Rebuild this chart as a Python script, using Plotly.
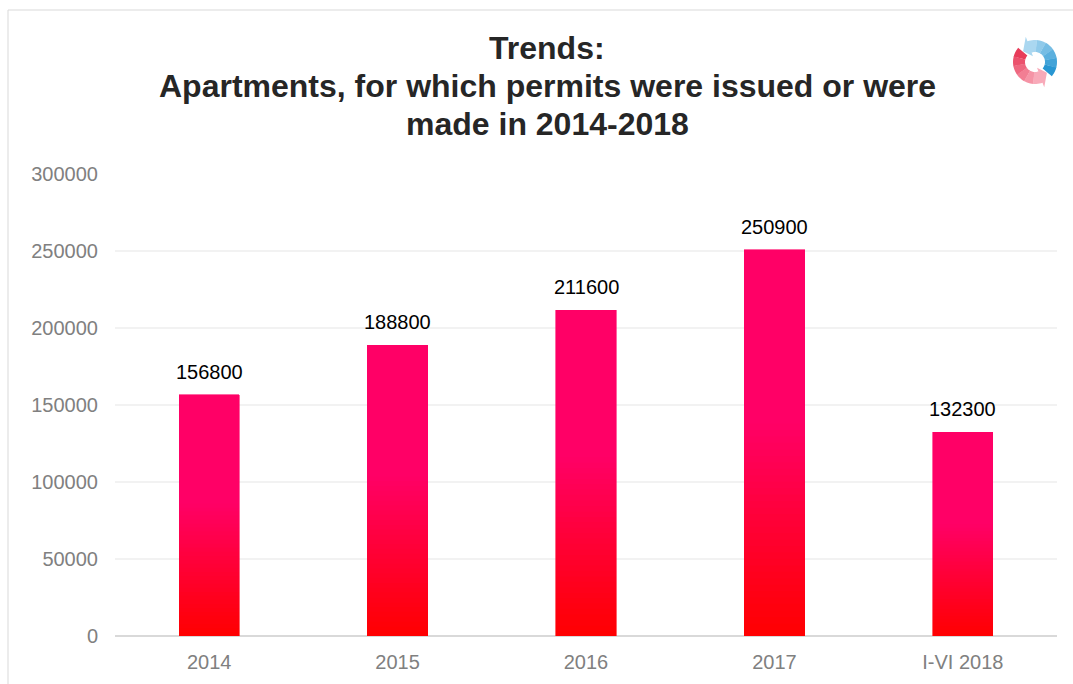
import math
import plotly.graph_objects as go

# Apartments for which permits were issued, per period
categories = ["2014", "2015", "2016", "2017", "I-VI 2018"]
values = [156800, 188800, 211600, 250900, 132300]
y_ticks = [0, 50000, 100000, 150000, 200000, 250000, 300000]
title_lines = [
    "Trends:",
    "Apartments, for which permits were issued or were",
    "made in 2014-2018",
]

W, H = 1073, 684
ML, MR, MT, MB = 115, 16, 174, 48
PW, PH = W - ML - MR, H - MT - MB

FONT = "Liberation Sans, Arial, sans-serif"
PINK = (255, 0, 102)
RED = (255, 0, 0)


def bar_color(f):
    """Vertical gradient inside a bar: red at the base, pink from ~55% up."""
    t = min(f / 0.55, 1.0)
    c = [round(RED[i] + (PINK[i] - RED[i]) * t) for i in range(3)]
    return f"rgb({c[0]},{c[1]},{c[2]})"


def px_to_paper(px, py):
    return (px - ML) / PW, (MT + PH - py) / PH


fig = go.Figure()

# each bar is stacked from thin slices so it can carry a vertical gradient
N = 60
for k in range(N):
    col = bar_color((k + 0.5) / N)
    fig.add_trace(go.Bar(
        x=categories,
        y=[v / N for v in values],
        marker=dict(color=col, line=dict(color=col, width=0.6)),
        hoverinfo="skip",
        showlegend=False,
    ))

# value labels above the bars (category axis positions by index)
for i, v in enumerate(values):
    fig.add_annotation(
        x=i, y=v, xref="x", yref="y", text=str(v), showarrow=False,
        yanchor="middle", yshift=23,
        font=dict(family=FONT, size=20, color="#000000"),
    )

# title, one line per annotation for tight line spacing
for i, line in enumerate(title_lines):
    xp, yp = px_to_paper(547, 48 + 38 * i)
    fig.add_annotation(
        x=xp, y=yp, xref="paper", yref="paper", text=f"<b>{line}</b>",
        showarrow=False, xanchor="center", yanchor="middle",
        font=dict(family=FONT, size=32, color="#262626"),
    )

# outer frame
x0, y1 = px_to_paper(8, 10)
x1, y0 = px_to_paper(W + 5, H + 5)
fig.add_shape(type="rect", xref="paper", yref="paper", x0=x0, y0=y0, x1=x1, y1=y1,
              line=dict(color="#d9d9d9", width=1), fillcolor="rgba(0,0,0,0)", layer="below")

# small circular-arrows emblem, top right
CX, CY, RO, RI = 1035, 62, 22, 10


def ring_piece(a0, a1, arrow=False):
    pts_o, pts_i = [], []
    steps = 6
    for s in range(steps + 1):
        a = math.radians(a0 + (a1 - a0) * s / steps)
        pts_o.append((CX + RO * math.cos(a), CY - RO * math.sin(a)))
        pts_i.append((CX + RI * math.cos(a), CY - RI * math.sin(a)))
    pts = pts_o
    if arrow:
        a = math.radians(a1)
        am = math.radians(a1 + 28)
        rmid = (RO + RI) / 2
        pts = pts + [
            (CX + (RO + 5) * math.cos(a), CY - (RO + 5) * math.sin(a)),
            (CX + rmid * math.cos(am), CY - rmid * math.sin(am)),
            (CX + (RI - 4) * math.cos(a), CY - (RI - 4) * math.sin(a)),
        ]
    pts = pts + pts_i[::-1]
    path = ""
    for j, (px, py) in enumerate(pts):
        xp, yp = px_to_paper(px, py)
        path += ("M" if j == 0 else "L") + f"{xp:.5f},{yp:.5f} "
    return path + "Z"


def emblem_arc(a_start, a_end, c_start, c_end, pieces=6):
    for p in range(pieces):
        a0 = a_start + (a_end - a_start) * p / pieces
        a1 = a_start + (a_end - a_start) * (p + 1) / pieces + (0 if p == pieces - 1 else 1)
        t = p / (pieces - 1)
        col = "rgb(%d,%d,%d)" % tuple(round(c_start[i] + (c_end[i] - c_start[i]) * t) for i in range(3))
        fig.add_shape(type="path", xref="paper", yref="paper",
                      path=ring_piece(a0, a1, arrow=(p == pieces - 1)),
                      fillcolor=col, line=dict(width=0))


emblem_arc(-40, 110, (40, 150, 210), (170, 215, 240))
emblem_arc(140, 290, (232, 60, 90), (248, 170, 185))

fig.update_layout(
    width=W, height=H,
    margin=dict(l=ML, r=MR, t=MT, b=MB),
    paper_bgcolor="white", plot_bgcolor="white",
    barmode="stack", bargap=0.68,
    showlegend=False,
    font=dict(family=FONT),
    xaxis=dict(
        type="category", range=[-0.5, len(categories) - 0.5],
        showgrid=False, showline=False, zeroline=False,
        ticks="", ticklabelstandoff=12,
        tickfont=dict(family=FONT, size=20, color="#808080"),
    ),
    yaxis=dict(
        range=[0, 300000], tickvals=y_ticks, tickformat="d",
        showgrid=True, gridcolor="#f2f2f2", gridwidth=1.5,
        zeroline=True, zerolinecolor="#d9d9d9", zerolinewidth=1.5,
        showline=False, ticks="", ticklabelstandoff=16,
        tickfont=dict(family=FONT, size=20, color="#808080"),
    ),
)

fig.write_html("out.html")
